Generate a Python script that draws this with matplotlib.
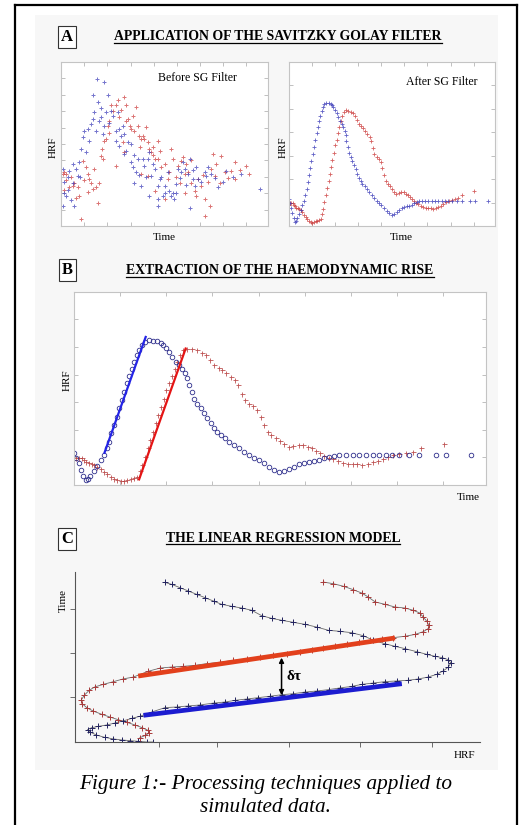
import numpy as np
import matplotlib
matplotlib.use('Agg')
import matplotlib.pyplot as plt
from matplotlib.lines import Line2D
from matplotlib.patches import Rectangle

plt.rcParams['font.family'] = ['Liberation Serif', 'DejaVu Serif']

W, H = 520, 825

# ---- panel A left: raw samples (time, HRF) ----
raw_blue_t = [0.8, 1.6, 0.8, 3.2, 4.0, 5.6, 2.4, 6.5, 7.3, 8.1,
              8.9, 9.7, 10.5, 11.3, 12.9, 14.5, 15.3, 15.3, 16.1, 17.7,
              18.5, 19.4, 21.0, 17.4, 21.0, 22.6, 21.8, 24.2, 25.0, 27.4,
              26.6, 28.2, 29.0, 28.2, 29.8, 30.6, 32.3, 33.9, 33.9, 34.7,
              36.3, 37.1, 39.5, 40.3, 41.9, 42.7, 43.5, 45.2, 46.8, 47.6,
              50.0, 51.6, 52.4, 54.0, 55.6, 56.5, 58.1, 58.9, 59.7, 61.3,
              62.1, 63.7, 64.5, 66.1, 69.4, 70.2, 72.6, 62.1, 54.8, 46.8,
              38.7, 42.7, 35.5, 75.8, 79.8, 87.1, 96.0, 46.8, 50.0, 53.2,
              1.6, 3.2, 4.8, 5.6, 9.0, 12.1, 13.7, 16.9, 19.4, 20.2,
              23.4, 26.6, 30.6, 31.5, 35.5, 37.9, 41.1, 44.4, 48.4, 49.2,
              55.6, 57.3, 60.5, 63.7, 65.3, 67.7, 71.0, 74.2, 78.2, 83.1]
raw_blue_h = [34.7, 20.4, 12.2, 29.6, 33.7, 26.5, 18.4, 12.2, 34.7, 30.6,
              38.8, 46.9, 54.1, 58.2, 59.2, 62.2, 65.3, 79.6, 69.4, 75.5,
              64.3, 66.3, 61.2, 89.8, 87.8, 79.6, 69.4, 70.4, 67.3, 69.4,
              58.2, 59.2, 55.1, 49.0, 61.2, 43.9, 51.0, 50.0, 38.8, 35.7,
              32.7, 40.8, 40.8, 36.7, 40.8, 44.9, 30.6, 34.7, 24.5, 28.6,
              24.5, 32.7, 21.4, 20.4, 25.5, 34.7, 32.7, 38.8, 34.7, 31.6,
              40.8, 28.6, 24.5, 28.6, 32.7, 30.6, 31.6, 11.2, 16.3, 16.3,
              24.5, 18.4, 26.5, 23.5, 33.7, 31.6, 22.4, 12.2, 20.4, 18.4,
              27.0, 22.0, 16.0, 38.0, 30.0, 45.0, 52.0, 58.0, 72.0, 56.0,
              63.0, 52.0, 56.0, 46.0, 43.0, 31.0, 30.0, 38.0, 30.0, 18.0,
              20.0, 29.0, 25.0, 34.0, 36.0, 27.0, 36.0, 29.0, 27.0, 30.0]
raw_red_t = [0.8, 1.6, 2.4, 4.0, 5.6, 8.1, 8.9, 9.7, 10.5, 12.1,
             12.9, 13.7, 14.5, 15.3, 16.1, 17.7, 18.5, 19.4, 20.2, 21.0,
             21.8, 22.6, 23.4, 24.2, 26.6, 28.2, 30.6, 31.5, 32.3, 33.1,
             33.9, 34.7, 36.3, 37.1, 37.9, 38.7, 39.5, 40.3, 41.1, 41.9,
             43.5, 44.4, 45.2, 46.8, 47.6, 46.8, 50.0, 51.6, 53.2, 54.0,
             56.5, 58.1, 58.9, 60.5, 59.7, 62.9, 64.5, 66.1, 67.7, 69.4,
             69.4, 71.8, 72.6, 73.4, 74.2, 76.6, 77.4, 79.0, 82.3, 83.9,
             83.9, 89.5, 50.0, 45.2, 38.7, 30.6, 26.6, 29.8, 59.7, 65.3,
             41.9, 2.4, 4.8, 6.5, 11.3, 13.0, 16.9, 20.0, 23.0, 25.0,
             27.4, 29.0, 31.5, 35.5, 38.0, 42.7, 44.4, 48.4, 52.4, 55.6,
             57.3, 61.3, 63.0, 68.5, 71.0, 75.0, 80.6, 86.3, 91.0, 1.6,
             7.3]
raw_red_h = [31.6, 32.7, 31.6, 23.5, 24.5, 23.5, 18.4, 4.5, 39.8, 35.7,
             31.6, 28.6, 26.5, 22.4, 34.7, 14.3, 26.5, 42.9, 40.8, 52.0,
             53.1, 61.2, 64.3, 73.5, 73.5, 66.3, 78.6, 73.5, 65.3, 61.2,
             59.2, 67.3, 72.4, 61.2, 55.1, 53.1, 55.1, 53.1, 60.2, 51.0,
             44.9, 48.0, 40.8, 52.0, 45.9, 40.8, 37.8, 28.6, 46.9, 40.8,
             36.7, 39.8, 41.8, 37.8, 31.6, 26.5, 21.4, 28.6, 24.5, 16.3,
             6.1, 12.2, 34.7, 43.9, 30.6, 26.5, 42.9, 32.7, 33.7, 38.8,
             28.6, 36.7, 16.3, 21.4, 31.6, 44.9, 36.7, 51.0, 20.4, 18.4,
             30.6, 28.0, 30.0, 26.0, 28.0, 21.0, 24.0, 47.0, 57.0, 70.0,
             77.0, 71.0, 64.0, 58.0, 48.0, 47.0, 43.0, 36.0, 33.0, 30.0,
             26.0, 33.0, 40.0, 31.0, 27.0, 38.0, 29.0, 34.0, 32.0, 22.0,
             17.0]

# ---- smoothed curves (panel A right and panel B) ----
sg_blue_t = [0, 0.6, 1.1, 1.6, 2.2, 2.8, 3.5, 4.0, 4.9, 5.7,
             6.5, 7.3, 7.9, 8.5, 9.1, 9.7, 10.4, 10.9, 11.6, 12.1,
             12.8, 13.4, 14.0, 14.6, 15.2, 15.8, 16.4, 17.2, 18.2, 19.2,
             20.2, 21.1, 21.6, 22.3, 23.1, 23.9, 24.7, 25.5, 26.3, 27.0,
             27.5, 27.9, 28.6, 29.2, 29.9, 30.8, 31.6, 32.4, 33.2, 34.0,
             34.8, 35.6, 36.7, 37.7, 38.9, 40.1, 41.3, 42.5, 43.7, 44.9,
             46.2, 47.4, 48.6, 49.8, 51.0, 52.2, 53.4, 54.7, 55.9, 57.1,
             58.3, 59.5, 60.7, 62.0, 63.2, 64.4, 66.0, 67.6, 69.2, 70.9,
             72.5, 74.1, 75.7, 77.3, 78.9, 81.4, 83.8, 87.9, 90.3, 96.4]
sg_blue_h = [16.4, 13.8, 11.2, 7.8, 4.8, 2.6, 3.1, 4.8, 7.2, 10.0,
             12.9, 15.5, 19.0, 22.4, 26.7, 31.0, 35.3, 39.7, 44.0, 48.3,
             52.6, 56.6, 60.3, 63.8, 67.2, 70.2, 72.4, 74.1, 75.0, 74.8,
             74.5, 73.8, 72.4, 71.0, 69.0, 66.4, 63.8, 62.4, 60.3, 57.8,
             55.2, 51.7, 48.3, 44.8, 42.2, 39.7, 37.1, 34.5, 31.9, 29.3,
             27.6, 25.9, 24.1, 22.4, 20.7, 19.0, 17.2, 15.5, 14.1, 12.9,
             11.2, 9.1, 7.8, 6.9, 7.2, 8.3, 9.5, 10.7, 11.6, 12.1,
             12.4, 12.9, 13.8, 14.7, 15.2, 15.3, 15.5, 15.5, 15.5, 15.5,
             15.5, 15.5, 15.5, 15.5, 15.5, 15.5, 15.5, 15.5, 15.5, 15.5]
sg_red_t = [0, 0.6, 1.2, 1.9, 2.4, 3.0, 3.6, 4.3, 4.9, 5.7,
            6.5, 7.3, 8.1, 8.9, 9.7, 10.5, 11.3, 12.1, 12.9, 13.8,
            14.6, 15.4, 16.0, 16.6, 17.2, 17.9, 18.5, 19.2, 19.8, 20.5,
            21.1, 21.8, 22.4, 23.1, 23.7, 24.4, 25.0, 25.7, 26.5, 27.5,
            28.7, 29.9, 31.0, 32.0, 33.0, 34.0, 35.1, 36.0, 37.0, 38.1,
            39.1, 39.9, 40.7, 41.5, 42.5, 43.5, 44.5, 45.3, 46.2, 47.0,
            47.9, 49.0, 50.0, 51.0, 52.1, 53.2, 54.5, 55.6, 56.7, 57.7,
            58.7, 59.7, 60.7, 61.8, 62.8, 64.0, 65.2, 66.4, 67.6, 68.8,
            70.0, 71.3, 72.5, 73.7, 74.9, 76.1, 77.5, 78.9, 80.6, 82.2,
            84.2, 89.9]
sg_red_h = [12.9, 13.8, 14.1, 13.8, 12.9, 12.1, 11.2, 10.9, 10.3, 9.5,
            8.3, 6.9, 5.5, 4.3, 3.1, 2.6, 2.1, 2.2, 2.8, 3.1,
            3.4, 4.3, 7.2, 10.3, 14.7, 19.0, 23.3, 27.6, 31.9, 36.2,
            40.5, 44.8, 49.1, 52.6, 56.6, 60.3, 63.8, 67.2, 69.8, 70.7,
            70.3, 69.8, 68.6, 67.2, 64.7, 62.1, 60.7, 59.5, 57.8, 56.0,
            54.3, 51.7, 47.4, 44.0, 42.2, 41.0, 38.8, 35.3, 31.0, 27.6,
            25.9, 24.5, 22.8, 21.0, 19.8, 20.3, 20.7, 20.7, 19.8, 19.0,
            17.8, 16.4, 15.2, 14.1, 13.4, 12.4, 11.6, 10.9, 10.7, 10.7,
            10.5, 10.9, 11.7, 12.4, 13.4, 14.7, 15.5, 16.0, 16.4, 16.9,
            19.0, 21.2]

# rise segments in panel B
rise_blue_t = [7.4, 17.4]
rise_blue_h = [16.7, 76.7]
rise_red_t = [15.8, 27.1]
rise_red_h = [2.9, 70.7]

# ---- panel C: HRF on x, time on y ----
c_blue_h = [19.3, 17.7, 15.6, 13.6, 11.5, 9.5, 7.4, 5.3, 3.7, 3.1,
            4.1, 5.8, 7.8, 9.9, 11.9, 14.0, 16.0, 18.9, 22.2, 25.1,
            28.0, 30.9, 34.2, 37.0, 39.5, 42.4, 45.3, 48.1, 51.0, 53.9,
            56.8, 59.7, 62.6, 65.4, 68.3, 70.8, 73.7, 76.5, 79.4, 82.3,
            84.8, 87.2, 89.3, 90.9, 92.2, 92.8, 92.2, 90.7, 88.9, 86.8,
            84.4, 81.5, 79.0, 76.5, 73.7, 71.2, 68.3, 65.4, 62.6, 59.7,
            56.8, 53.9, 51.0, 48.6, 46.1, 43.6, 41.2, 38.7, 36.2, 34.2,
            32.1, 30.0, 28.0, 25.9, 23.9, 22.2]
c_blue_t = [0.0, 0.0, 0.4, 0.8, 1.2, 1.8, 2.7, 4.1, 5.9, 7.3,
            8.4, 9.2, 10.0, 11.2, 12.4, 13.9, 15.1, 17.6, 20.2, 20.6,
            21.2, 21.8, 22.9, 23.5, 24.5, 25.3, 26.1, 26.9, 27.8, 28.4,
            29.4, 30.0, 30.8, 31.8, 32.7, 33.9, 34.7, 35.5, 35.9, 36.3,
            37.1, 38.2, 39.8, 41.8, 44.1, 46.5, 48.4, 49.6, 50.4, 51.6,
            53.1, 54.9, 56.3, 57.8, 59.8, 62.5, 64.3, 65.1, 65.7, 67.6,
            69.2, 70.4, 71.6, 72.7, 74.3, 77.5, 78.8, 79.8, 81.0, 82.9,
            84.9, 86.9, 88.8, 90.8, 92.7, 93.9]
c_red_h = [16.0, 17.4, 18.3, 18.0, 16.6, 14.8, 12.8, 10.7, 8.6, 6.6,
           4.5, 2.9, 1.8, 1.6, 2.3, 3.5, 4.9, 7.0, 9.5, 11.9,
           14.4, 18.1, 21.0, 23.9, 26.7, 29.6, 32.5, 35.8, 39.1, 42.4,
           45.7, 49.0, 52.3, 55.6, 58.4, 61.3, 64.2, 67.1, 70.0, 72.8,
           75.7, 78.6, 81.5, 84.0, 86.0, 87.2, 87.4, 86.8, 86.0, 85.1,
           83.5, 81.5, 79.0, 76.5, 74.1, 72.4, 70.8, 68.7, 66.3, 63.8,
           61.3]
c_red_t = [2.5, 3.9, 5.3, 6.9, 8.4, 10.0, 11.6, 13.1, 14.7, 16.3,
           18.2, 20.2, 22.5, 24.9, 27.5, 30.4, 32.4, 33.9, 35.5, 37.1,
           38.2, 41.6, 43.5, 44.1, 44.5, 45.1, 46.1, 46.9, 48.0, 48.8,
           50.0, 51.0, 52.0, 52.9, 53.9, 55.5, 56.3, 57.5, 58.8, 59.8,
           60.6, 61.4, 62.2, 63.3, 64.9, 66.7, 68.6, 71.2, 73.5, 75.9,
           77.5, 78.8, 79.4, 81.0, 82.4, 85.3, 87.6, 89.6, 91.6, 93.1,
           94.1]

fit_blue_h = [16.9, 80.7]
fit_blue_t = [15.7, 34.3]
fit_red_h = [15.6, 79.0]
fit_red_t = [38.8, 61.2]
delay_h = 51.0
delay_t = [27.5, 49.6]

BLUE = '#3a3ab8'
RED = '#cc3a3a'


def fx(px):
    return px / W


def fy(py):
    return 1 - py / H


def axes_px(fig, x0, y0, x1, y1):
    return fig.add_axes([fx(x0), fy(y1), (x1 - x0) / W, (y1 - y0) / H])


def box_style(ax, xt, yt):
    ax.set_xlim(0, 100)
    ax.set_ylim(0, 100)
    ax.set_xticks(xt)
    ax.set_yticks(yt)
    ax.tick_params(direction='in', length=3, width=0.6, color='#b5b5b5',
                   top=True, right=True, labelbottom=False, labelleft=False)
    for s in ax.spines.values():
        s.set_color('#c4c4c4')
        s.set_linewidth(0.8)


fig = plt.figure(figsize=(W / 100, H / 100), dpi=100)

# page background and frame
fig.add_artist(Rectangle((fx(35), fy(770)), (498 - 35) / W, (770 - 15) / H,
                         transform=fig.transFigure, fc='#f7f7f7', ec='none', zorder=-5))
frame = dict(transform=fig.transFigure, color='black', lw=1.6)
fig.add_artist(Line2D([fx(15), fx(15)], [fy(5), 0], **frame))
fig.add_artist(Line2D([fx(15), fx(517)], [fy(5), fy(5)], **frame))
fig.add_artist(Line2D([fx(517), fx(517)], [fy(5), 0], **frame))

xt8 = np.arange(1, 9) * 11.2
yt6 = np.arange(1, 7) * 14.3

# ---- A left ----
ax1 = axes_px(fig, 61, 62, 268, 226)
ax1.plot(raw_red_t, raw_red_h, '+', color=RED, ms=3.2, mew=0.7, alpha=0.7)
ax1.plot(raw_blue_t, raw_blue_h, '+', color=BLUE, ms=3.2, mew=0.7, alpha=0.7)
box_style(ax1, xt8, np.arange(1, 10) * 10)
ax1.text(0.66, 0.9, 'Before SG Filter', transform=ax1.transAxes,
         ha='center', va='center', fontsize=8.5)

# ---- A right ----
ax2 = axes_px(fig, 289, 62, 495, 226)
ax2.plot(sg_red_t, sg_red_h, '+', color=RED, ms=2.6, mew=0.6, alpha=0.8)
ax2.plot(sg_blue_t, sg_blue_h, '+', color=BLUE, ms=2.6, mew=0.6, alpha=0.8)
box_style(ax2, xt8, yt6)
ax2.text(0.74, 0.88, 'After SG Filter', transform=ax2.transAxes,
         ha='center', va='center', fontsize=8.5)

# ---- B ----
ax3 = axes_px(fig, 74, 292, 486, 485)
ax3.plot(sg_red_t, sg_red_h, '+', color='#b23434', ms=3.6, mew=0.6, alpha=0.85)
ax3.plot(sg_blue_t, sg_blue_h, 'o', mfc='none', mec='#2e2e8c', ms=3.3, mew=0.6)
ax3.plot(rise_blue_t, rise_blue_h, color='#2424e6', lw=1.6)
ax3.plot(rise_red_t, rise_red_h, color='#e41414', lw=1.6)
box_style(ax3, xt8, yt6)

# ---- C ----
ax4 = axes_px(fig, 75, 572, 480, 742)
ax4.plot(c_blue_h, c_blue_t, '-', color='#6a6a6a', lw=0.6)
ax4.plot(c_red_h, c_red_t, '-', color='#6a6a6a', lw=0.6)
ax4.plot(c_blue_h, c_blue_t, '+', color='#22225e', ms=4.5, mew=0.7)
ax4.plot(c_red_h, c_red_t, '+', color='#a83a3a', ms=4.5, mew=0.7)
ax4.plot(fit_red_h, fit_red_t, color='#e2401c', lw=3.4, solid_capstyle='butt')
ax4.plot(fit_blue_h, fit_blue_t, color='#1c1cd0', lw=3.4, solid_capstyle='butt')
ax4.annotate('', xy=(delay_h, delay_t[1]), xytext=(delay_h, delay_t[0]),
             arrowprops=dict(arrowstyle='<|-|>', color='black', lw=1.1,
                             mutation_scale=7, shrinkA=0, shrinkB=0))
ax4.text(delay_h + 1.2, (delay_t[0] + delay_t[1]) / 2, 'δτ',
         ha='left', va='center', fontsize=11, fontweight='bold')
ax4.set_xlim(0, 100)
ax4.set_ylim(0, 100)
ax4.set_xticks([20.7, 35.1, 52.8, 70.4, 88.1])
ax4.set_yticks([26.5, 52.4, 78.4])
ax4.tick_params(direction='out', length=3.5, width=0.6, color='#555555',
                labelbottom=False, labelleft=False)
ax4.spines['top'].set_visible(False)
ax4.spines['right'].set_visible(False)
for s in ('left', 'bottom'):
    ax4.spines[s].set_color('#555555')
    ax4.spines[s].set_linewidth(0.8)
ax4.patch.set_alpha(0)

# ---- texts ----
lab = dict(fontsize=8, ha='center', va='center')
fig.text(fx(53), fy(147), 'HRF', rotation=90, **lab)
fig.text(fx(283), fy(147), 'HRF', rotation=90, **lab)
fig.text(fx(164), fy(237), 'Time', **lab)
fig.text(fx(401), fy(237), 'Time', **lab)
fig.text(fx(67), fy(380), 'HRF', rotation=90, **lab)
fig.text(fx(468), fy(498), 'Time', **lab)
fig.text(fx(63), fy(600), 'Time', rotation=90, **lab)
fig.text(fx(464), fy(755), 'HRF', **lab)

letter_box = dict(boxstyle='square,pad=0.18', fc='white', ec='#333333', lw=0.8)
for letter, py in (('A', 37), ('B', 270), ('C', 539)):
    fig.text(fx(67), fy(py), letter, fontsize=12, fontweight='bold',
             ha='center', va='center', bbox=letter_box)

titles = []
for title, px, py in (('APPLICATION OF THE SAVITZKY GOLAY FILTER', 278, 37),
                      ('EXTRACTION OF THE HAEMODYNAMIC RISE', 280, 271),
                      ('THE LINEAR REGRESSION MODEL', 283, 538)):
    titles.append(fig.text(fx(px), fy(py), title, fontsize=9.9, fontweight='bold',
                           ha='center', va='center'))

fig.text(fx(266), fy(784), 'Figure 1:- Processing techniques applied to',
         fontsize=15.3, style='italic', ha='center', va='center')
fig.text(fx(266), fy(807), 'simulated data.',
         fontsize=15.3, style='italic', ha='center', va='center')

# underline the panel titles
fig.canvas.draw()
for t in titles:
    bb = t.get_window_extent().transformed(fig.transFigure.inverted())
    yline = bb.y0 + 0.8 / H
    fig.add_artist(Line2D([bb.x0, bb.x1], [yline, yline],
                          transform=fig.transFigure, color='black', lw=0.9))

fig.savefig('out.png', dpi=100)
